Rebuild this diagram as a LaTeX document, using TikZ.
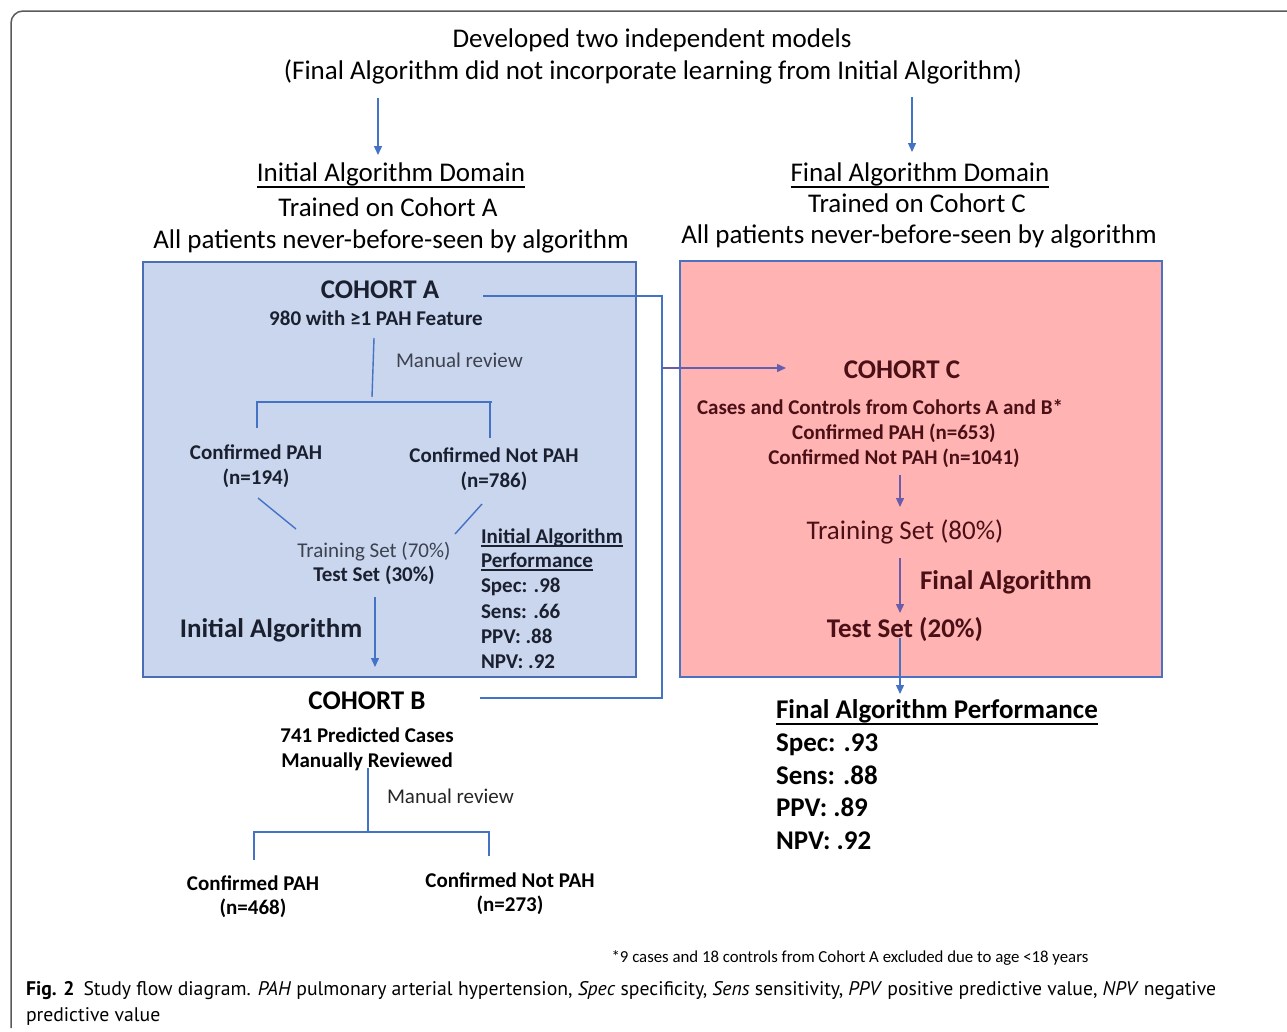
\documentclass[tikz,border=0pt]{standalone}
\usepackage{fontspec}
\setmainfont{Carlito}
\newfontfamily\capfont{PT Sans}
\usetikzlibrary{arrows.meta}
\definecolor{lblue}{HTML}{4472C4}
\definecolor{afill}{HTML}{C9D6EE}
\definecolor{aedge}{HTML}{4A6DB3}
\definecolor{cfill}{HTML}{FFB3B3}
\definecolor{cedge}{HTML}{4A72C0}
\definecolor{atext}{HTML}{1A2030}
\definecolor{ctext}{HTML}{4A1015}
\definecolor{purp}{HTML}{6A5CA8}
\definecolor{framec}{HTML}{5A5A5A}
\newcommand{\fsz}[1]{\fontsize{#1pt}{#1pt}\selectfont}
\begin{document}
\begin{tikzpicture}[x=1pt,y=-1pt,
  t/.style={inner sep=0pt, outer sep=0pt, anchor=base},
  tw/.style={inner sep=0pt, outer sep=0pt, anchor=base west},
  conn/.style={draw=lblue, line width=1.4pt},
  arr/.style={conn, -{Triangle[length=9pt,width=8pt]}},
  parr/.style={draw=purp, line width=1.4pt, -{Triangle[length=9pt,width=8pt]}},
  ul/.style={line width=2.6pt, black},
  box/.style={anchor=north west, inner sep=0pt, outer sep=0pt, line width=1.6pt},
  nA/.style={t, text=atext, font=\bfseries\fsz{21}},
  nC/.style={t, text=ctext, font=\bfseries\fsz{21}},
  big/.style={font=\bfseries\fsz{27}},
]
\useasboundingbox (0,0) rectangle (1287,1031);
% frame
\coordinate (fr1) at (11,1028); \coordinate (fr2) at (11,11); \coordinate (fr3) at (1287,11);
\draw[framec, line width=1.5pt, rounded corners=12pt] (fr1) -- (fr2) -- (fr3);

% boxes
\node[box, draw=aedge, fill=afill, minimum width=493pt, minimum height=415pt] (boxA) at (143,262) {};
\node[box, draw=cedge, fill=cfill, minimum width=482pt, minimum height=416pt] (boxC) at (680,261) {};

% top
\node[t, font=\fsz{27}] (dev) at (652,47) {Developed two independent models};
\node[t, font=\fsz{27}] (fin) at (653,79) {(Final Algorithm did not incorporate learning from Initial Algorithm)};
\coordinate (la) at (378,98); \coordinate (lb) at (378,155);
\coordinate (ra) at (912,97); \coordinate (rb) at (912,152);
\draw[arr] (la) -- (lb);
\draw[arr] (ra) -- (rb);

\node[t, font=\fsz{27}] (iad) at (391,181) {Initial Algorithm Domain};
\draw[ul] ([yshift=-6pt]iad.base west) -- ([yshift=-6pt]iad.base east);
\node[t, font=\fsz{27}] (tca) at (388,216) {Trained on Cohort A};
\node[t, font=\fsz{27}] (apa) at (391,248) {All patients never-before-seen by algorithm};
\node[t, font=\fsz{27}] (fad) at (920,181) {Final Algorithm Domain};
\draw[ul] ([yshift=-6pt]fad.base west) -- ([yshift=-6pt]fad.base east);
\node[t, font=\fsz{27}] (tcc) at (917,212) {Trained on Cohort C};
\node[t, font=\fsz{27}] (apc) at (919,243) {All patients never-before-seen by algorithm};

% box A content
\node[nA, big] (coA) at (380,298) {COHORT A};
\node[nA] (f980) at (376,325) {980 with ≥1 PAH Feature};
\node[tw, text=atext!85, font=\fsz{21}] (mr1) at (396,367) {Manual review};
\coordinate (a1) at (374,338); \coordinate (a2) at (372,397);
\coordinate (a3) at (257,402); \coordinate (a4) at (492,402); \coordinate (a5) at (257,428);
\coordinate (a6) at (490,402); \coordinate (a7) at (490,438);
\draw[conn] (a1) -- (a2);
\draw[conn] (a5) -- (a3) -- (a4);
\draw[conn] (a6) -- (a7);
\node[nA] (cpa) at (256,459) {Confirmed PAH};
\node[nA] (cpan) at (256,484) {(n=194)};
\node[nA] (cnpa) at (494,462) {Confirmed Not PAH};
\node[nA] (cnpan) at (494,487) {(n=786)};
\coordinate (d1) at (258,498); \coordinate (d2) at (296,529);
\coordinate (d3) at (482,504); \coordinate (d4) at (455,534);
\draw[conn] (d1) -- (d2);
\draw[conn] (d3) -- (d4);
\node[t, text=atext!85, font=\fsz{21}] (tr70) at (374,557) {Training Set (70\%)};
\node[nA] (te30) at (374,581) {Test Set (30\%)};
\coordinate (e1) at (375,597); \coordinate (e2) at (375,667);
\draw[arr] (e1) -- (e2);
\node[nA, big] (ialg) at (271,637) {Initial Algorithm};
\node[tw, text=atext, font=\bfseries\fsz{21}] (pA1) at (481,543) {Initial Algorithm};
\node[tw, text=atext, font=\bfseries\fsz{21}] (pA2) at (481,567) {Performance};
\node[tw, text=atext, font=\bfseries\fsz{21}] (pA3) at (481,592) {Spec: .98};
\node[tw, text=atext, font=\bfseries\fsz{21}] (pA4) at (481,618) {Sens: .66};
\node[tw, text=atext, font=\bfseries\fsz{21}] (pA5) at (481,643) {PPV: .88};
\node[tw, text=atext, font=\bfseries\fsz{21}] (pA6) at (481,668) {NPV: .92};
\draw[line width=2.2pt, atext] ([yshift=-3pt]pA1.base west) -- ([yshift=-3pt]pA1.base east);
\draw[line width=2.2pt, atext] ([yshift=-3pt]pA2.base west) -- ([yshift=-3pt]pA2.base east);

% bracket to cohort C
\coordinate (b1) at (483,296); \coordinate (b2) at (662,296);
\coordinate (b3) at (662,698); \coordinate (b4) at (480,698);
\coordinate (b5) at (662,368); \coordinate (b6) at (786,368);
\draw[conn] (b1) -- (b2) -- (b3) -- (b4);
\draw[parr, draw=purp!80!lblue] (b5) -- (b6);

% box C content
\node[nC, big] (coC) at (902,378) {COHORT C};
\node[nC] (cc1) at (880,414) {Cases and Controls from Cohorts A and B*};
\node[nC] (cc2) at (894,439) {Confirmed PAH (n=653)};
\node[nC] (cc3) at (894,464) {Confirmed Not PAH (n=1041)};
\coordinate (c1) at (900,475); \coordinate (c2) at (900,507);
\draw[parr] (c1) -- (c2);
\node[t, text=ctext, font=\fsz{27}] (tr80) at (905,539) {Training Set (80\%)};
\coordinate (c3) at (900,558); \coordinate (c4) at (900,613);
\draw[parr] (c3) -- (c4);
\node[tw, text=ctext, font=\bfseries\fsz{27}] (falg) at (920,589) {Final Algorithm};
\node[nC, big] (te20) at (905,637) {Test Set (20\%)};
\coordinate (c5) at (900,638); \coordinate (c6) at (900,694);
\draw[arr] (c5) -- (c6);

% final performance
\node[tw, font=\bfseries\fsz{27}] (fp1) at (776,718) {Final Algorithm Performance};
\draw[ul] ([yshift=-6pt]fp1.base west) -- ([yshift=-6pt]fp1.base east);
\node[tw, font=\bfseries\fsz{27}] (fp2) at (776,751) {Spec: .93};
\node[tw, font=\bfseries\fsz{27}] (fp3) at (776,784) {Sens: .88};
\node[tw, font=\bfseries\fsz{27}] (fp4) at (776,816) {PPV: .89};
\node[tw, font=\bfseries\fsz{27}] (fp5) at (776,849) {NPV: .92};

% cohort B
\node[t, font=\bfseries\fsz{27}] (coB) at (367,709) {COHORT B};
\node[t, font=\bfseries\fsz{21}] (p741) at (367,742) {741 Predicted Cases};
\node[t, font=\bfseries\fsz{21}] (mrev) at (367,767) {Manually Reviewed};
\coordinate (g1) at (368,768); \coordinate (g2) at (368,832);
\coordinate (g3) at (254,860); \coordinate (g4) at (254,832);
\coordinate (g5) at (489,832); \coordinate (g6) at (489,856);
\draw[conn] (g1) -- (g2);
\draw[conn] (g3) -- (g4) -- (g5) -- (g6);
\node[tw, font=\fsz{21}, text=black!85] (mr2) at (387,803) {Manual review};
\node[t, font=\bfseries\fsz{21}] (cpb) at (253,890) {Confirmed PAH};
\node[t, font=\bfseries\fsz{21}] (cpbn) at (253,914) {(n=468)};
\node[t, font=\bfseries\fsz{21}] (cnpb) at (510,887) {Confirmed Not PAH};
\node[t, font=\bfseries\fsz{21}] (cnpbn) at (510,911) {(n=273)};

% footnote and caption
\node[t, font=\fsz{16.8}] (foot) at (850,962) {*9 cases and 18 controls from Cohort A excluded due to age <18 years};
\node[tw, font=\capfont\fsz{19.7}] (cap1) at (26,995) {\textbf{Fig. 2}\hspace{9pt}Study flow diagram. \textit{PAH} pulmonary arterial hypertension, \textit{Spec} specificity, \textit{Sens} sensitivity, \textit{PPV} positive predictive value, \textit{NPV} negative};
\node[tw, font=\capfont\fsz{19.7}] (cap2) at (26,1021) {predictive value};
\end{tikzpicture}
\end{document}
